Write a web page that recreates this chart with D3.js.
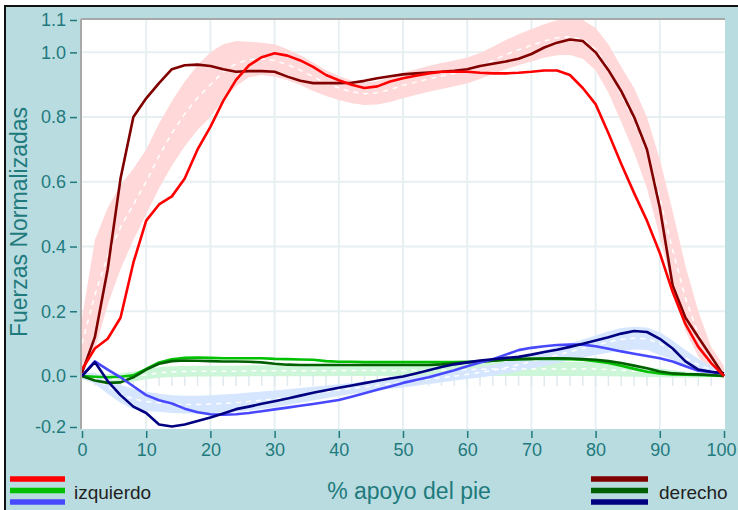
<!DOCTYPE html>
<html>
<head>
<meta charset="utf-8">
<script src="https://cdn.jsdelivr.net/npm/d3@7"></script>
<style>
  body { margin: 0; background: #fff; }
  svg { display: block; }
  text { font-family: "Liberation Sans", Arial, sans-serif; }
</style>
</head>
<body>
<script>
// % of stance phase
var pct = [0,2,4,6,8,10,12,14,16,18,20,22,24,26,28,30,32,34,36,38,40,42,44,46,48,50,
           52,54,56,58,60,62,64,66,68,70,72,74,76,78,80,82,84,86,88,90,92,94,96,98,100];

// vertical force
var izqVert = [0.02,0.085,0.115,0.18,0.35,0.48,0.53,0.555,0.61,0.70,0.77,0.85,0.915,0.96,0.985,0.997,0.99,0.975,0.955,0.93,
               0.914,0.90,0.89,0.895,0.91,0.92,0.928,0.935,0.94,0.94,0.94,0.937,0.935,0.935,0.937,0.94,0.944,0.944,0.93,0.89,
               0.84,0.75,0.655,0.565,0.48,0.38,0.26,0.16,0.09,0.04,0.0];
var derVert = [0.01,0.12,0.33,0.61,0.80,0.858,0.905,0.948,0.96,0.962,0.958,0.948,0.94,0.942,0.942,0.94,0.925,0.912,0.905,0.905,
               0.905,0.906,0.912,0.92,0.926,0.932,0.935,0.938,0.94,0.943,0.948,0.958,0.965,0.972,0.98,0.995,1.015,1.03,1.04,1.035,
               1.0,0.945,0.88,0.8,0.70,0.52,0.28,0.18,0.12,0.06,0.0];
var normVertMean = [0.1,0.25,0.37,0.46,0.53,0.6,0.68,0.75,0.81,0.86,0.9,0.94,0.965,0.978,0.98,0.975,0.962,0.945,0.925,0.905,
                    0.89,0.878,0.872,0.875,0.885,0.898,0.908,0.918,0.927,0.935,0.944,0.958,0.975,0.993,1.008,1.022,1.035,1.045,1.048,1.04,
                    1.01,0.95,0.87,0.79,0.69,0.55,0.39,0.24,0.13,0.05,0.01];
var normVertSd = [0.08,0.17,0.15,0.13,0.11,0.1,0.1,0.1,0.1,0.1,0.1,0.085,0.07,0.055,0.05,0.05,0.048,0.046,0.044,0.04,
                  0.037,0.035,0.035,0.036,0.038,0.04,0.04,0.04,0.04,0.04,0.04,0.04,0.042,0.045,0.048,0.05,0.052,0.054,0.056,0.06,
                  0.065,0.075,0.085,0.1,0.11,0.12,0.12,0.1,0.07,0.04,0.02];

// medio-lateral force
var izqML = [0.0,-0.003,-0.005,-0.003,0.002,0.022,0.042,0.052,0.056,0.057,0.056,0.055,0.055,0.055,0.055,0.053,0.052,0.051,0.05,0.046,
             0.044,0.044,0.043,0.043,0.043,0.043,0.043,0.043,0.043,0.043,0.044,0.045,0.047,0.05,0.052,0.053,0.053,0.053,0.052,0.05,
             0.046,0.04,0.032,0.022,0.013,0.008,0.005,0.004,0.003,0.002,0.0];
var derML = [0.0,-0.018,-0.027,-0.025,-0.005,0.02,0.038,0.046,0.048,0.047,0.046,0.045,0.045,0.044,0.042,0.038,0.035,0.034,0.034,0.034,
             0.034,0.034,0.034,0.034,0.034,0.034,0.034,0.034,0.036,0.039,0.042,0.044,0.047,0.05,0.052,0.053,0.054,0.055,0.054,0.052,
             0.05,0.046,0.04,0.032,0.024,0.014,0.008,0.006,0.005,0.003,0.0];
var normMLMean = [-0.005,-0.01,-0.012,-0.01,-0.004,0.004,0.01,0.013,0.014,0.015,0.015,0.015,0.015,0.016,0.016,0.016,0.016,0.016,0.016,0.016,
                  0.017,0.017,0.017,0.017,0.017,0.017,0.018,0.018,0.018,0.019,0.02,0.021,0.022,0.022,0.022,0.022,0.022,0.022,0.022,0.022,
                  0.022,0.02,0.018,0.015,0.012,0.009,0.006,0.004,0.002,0.001,0.0];
var normMLSd = [0.008,0.015,0.018,0.018,0.018,0.017,0.017,0.017,0.017,0.017,0.017,0.017,0.017,0.017,0.017,0.017,0.017,0.017,0.017,0.017,
                0.017,0.017,0.017,0.017,0.017,0.018,0.018,0.018,0.019,0.019,0.02,0.021,0.022,0.022,0.022,0.022,0.022,0.022,0.022,0.022,
                0.022,0.021,0.02,0.018,0.016,0.014,0.012,0.01,0.008,0.006,0.005];

// antero-posterior force
var izqAP = [0.0,0.045,0.02,-0.005,-0.04,-0.075,-0.095,-0.108,-0.128,-0.142,-0.15,-0.152,-0.15,-0.145,-0.138,-0.131,-0.124,-0.117,-0.11,-0.102,
             -0.094,-0.081,-0.068,-0.054,-0.041,-0.027,-0.016,-0.005,0.007,0.018,0.03,0.042,0.052,0.066,0.08,0.087,0.092,0.096,0.097,0.097,
             0.092,0.084,0.076,0.069,0.062,0.055,0.045,0.03,0.016,0.012,0.008];
var derAP = [0.0,0.043,-0.02,-0.075,-0.12,-0.145,-0.19,-0.198,-0.19,-0.176,-0.163,-0.147,-0.13,-0.12,-0.109,-0.099,-0.088,-0.077,-0.066,-0.056,
             -0.046,-0.037,-0.028,-0.019,-0.01,-0.002,0.008,0.018,0.028,0.036,0.042,0.048,0.052,0.056,0.059,0.066,0.074,0.081,0.09,0.1,
             0.11,0.12,0.131,0.139,0.136,0.115,0.085,0.045,0.02,0.013,0.008];
var normAPMean = [0.0,-0.01,-0.04,-0.07,-0.09,-0.1,-0.105,-0.11,-0.112,-0.112,-0.11,-0.108,-0.105,-0.1,-0.095,-0.09,-0.083,-0.076,-0.069,-0.062,
                  -0.055,-0.049,-0.043,-0.037,-0.03,-0.025,-0.019,-0.013,-0.007,-0.001,0.005,0.011,0.018,0.026,0.035,0.045,0.055,0.065,0.075,0.085,
                  0.095,0.105,0.113,0.117,0.115,0.1,0.08,0.055,0.035,0.02,0.005];
var normAPSd = [0.01,0.02,0.03,0.035,0.04,0.038,0.035,0.035,0.035,0.035,0.035,0.035,0.035,0.035,0.034,0.033,0.031,0.029,0.027,0.025,
                0.023,0.022,0.021,0.02,0.02,0.02,0.019,0.018,0.018,0.017,0.017,0.017,0.017,0.018,0.02,0.022,0.024,0.025,0.026,0.028,
                0.03,0.033,0.035,0.035,0.035,0.035,0.03,0.025,0.018,0.01,0.005];

var yTicks = [-0.2, 0.0, 0.2, 0.4, 0.6, 0.8, 1.0, 1.1];
var xTicks = [0,10,20,30,40,50,60,70,80,90,100];

var teal = "#1f7a7d";
var W = 738, H = 510;
var plot = {left: 81, right: 725, top: 20, bottom: 429};

var svg = d3.select("body").append("svg")
    .attr("width", W)
    .attr("height", H);

// outer panel
svg.append("rect")
    .attr("x", 5).attr("y", 6)
    .attr("width", W).attr("height", H)
    .attr("fill", "#b9dce0");
svg.append("line").attr("x1", 4).attr("x2", W).attr("y1", 6).attr("y2", 6)
    .attr("stroke", "#111").attr("stroke-width", 2);
svg.append("line").attr("x1", 5).attr("x2", 5).attr("y1", 6).attr("y2", H)
    .attr("stroke", "#111").attr("stroke-width", 2);

svg.append("rect")
    .attr("x", plot.left).attr("y", plot.top)
    .attr("width", plot.right - plot.left)
    .attr("height", plot.bottom - plot.top)
    .attr("fill", "#fff");

var x = d3.scaleLinear().domain([0, 100]).range([82, 724]);
var y = d3.scaleLinear().domain([-0.2, 0, 1.1]).range([427, 376, 20]);

// grid
svg.append("g").selectAll("line")
    .data(xTicks.slice(1, -1)).enter().append("line")
    .attr("x1", function(d) { return x(d); })
    .attr("x2", function(d) { return x(d); })
    .attr("y1", plot.top).attr("y2", plot.bottom)
    .attr("stroke", "#e6f0f2").attr("stroke-width", 2);
svg.append("g").selectAll("line")
    .data([0.2, 0.4, 0.6, 0.8, 1.0]).enter().append("line")
    .attr("x1", plot.left).attr("x2", plot.right)
    .attr("y1", function(d) { return y(d); })
    .attr("y2", function(d) { return y(d); })
    .attr("stroke", "#e6f0f2").attr("stroke-width", 2);
// minor ticks below the zero line
svg.append("g").selectAll("line")
    .data(pct.slice(1, -1)).enter().append("line")
    .attr("x1", function(d) { return x(d); })
    .attr("x2", function(d) { return x(d); })
    .attr("y1", y(0)).attr("y2", y(0) + 10)
    .attr("stroke", "#dfe9ee").attr("stroke-width", 1.5);

svg.append("line").attr("x1", plot.left).attr("x2", plot.right)
    .attr("y1", plot.top - 1).attr("y2", plot.top - 1)
    .attr("stroke", "#a8a8a8").attr("stroke-width", 2);
svg.append("line").attr("x1", plot.left).attr("x2", plot.left)
    .attr("y1", plot.top - 1).attr("y2", plot.bottom)
    .attr("stroke", "#a8a8a8").attr("stroke-width", 2);

svg.append("clipPath").attr("id", "clip")
    .append("rect")
    .attr("x", plot.left + 1).attr("y", plot.top)
    .attr("width", plot.right - plot.left)
    .attr("height", plot.bottom - plot.top);

var g = svg.append("g").attr("clip-path", "url(#clip)");

var band = function(mean, sd) {
    return d3.area()
        .x(function(d, i) { return x(pct[i]); })
        .y0(function(d, i) { return y(mean[i] - sd[i]); })
        .y1(function(d, i) { return y(mean[i] + sd[i]); })(mean);
};
var line = function(vals) {
    return d3.line()
        .x(function(d, i) { return x(pct[i]); })
        .y(function(d) { return y(d); })(vals);
};

var bands = [
    {mean: normVertMean, sd: normVertSd, color: "#ffd9d9"},
    {mean: normMLMean, sd: normMLSd, color: "#cdf5d8"},
    {mean: normAPMean, sd: normAPSd, color: "#d6e6ff"}
];
bands.forEach(function(b) {
    g.append("path").attr("d", band(b.mean, b.sd))
        .attr("fill", b.color);
});
bands.forEach(function(b) {
    g.append("path").attr("d", line(b.mean))
        .attr("fill", "none")
        .attr("stroke", "#fff")
        .attr("stroke-width", 1.5)
        .attr("stroke-dasharray", "5,5");
});

var series = [
    {vals: izqML, color: "#00c000"},
    {vals: derML, color: "#006000"},
    {vals: izqAP, color: "#4848ff"},
    {vals: derAP, color: "#000080"},
    {vals: derVert, color: "#800000"},
    {vals: izqVert, color: "#ff0000"}
];
series.forEach(function(s) {
    g.append("path").attr("d", line(s.vals))
        .attr("fill", "none")
        .attr("stroke", s.color)
        .attr("stroke-width", 2.6)
        .attr("stroke-linejoin", "round");
});

// axes
var yAxis = svg.append("g")
    .attr("transform", "translate(77,0)")
    .call(d3.axisLeft(y).tickValues(yTicks).tickSize(7).tickPadding(4)
        .tickFormat(function(d) { return d.toFixed(1); }));
var xAxis = svg.append("g")
    .attr("transform", "translate(0,431)")
    .call(d3.axisBottom(x).tickValues(xTicks).tickSize(7).tickPadding(5));
[yAxis, xAxis].forEach(function(a) {
    a.select(".domain").remove();
    a.selectAll(".tick line").attr("stroke", teal).attr("stroke-width", 1.5);
    a.selectAll(".tick text")
        .attr("fill", teal)
        .style("font-size", "18px")
        .style("font-family", "'Liberation Sans', Arial, sans-serif");
});
xAxis.selectAll(".tick text")
    .filter(function(d) { return d === 100; })
    .attr("dx", -3);

svg.append("text")
    .attr("transform", "translate(27,222) rotate(-90)")
    .attr("text-anchor", "middle")
    .attr("fill", teal)
    .style("font-size", "23px")
    .text("Fuerzas Normalizadas");

svg.append("text")
    .attr("x", 409).attr("y", 499)
    .attr("text-anchor", "middle")
    .attr("fill", teal)
    .style("font-size", "23px")
    .text("% apoyo del pie");

// legends
var legIzq = ["#ff0000", "#00c000", "#4848ff"];
var legDer = ["#800000", "#006000", "#000080"];
var legend = function(colors, x0, x1, label, tx) {
    svg.append("g").selectAll("line")
        .data(colors).enter().append("line")
        .attr("x1", x0).attr("x2", x1)
        .attr("y1", function(d, i) { return 479 + i * 11.5; })
        .attr("y2", function(d, i) { return 479 + i * 11.5; })
        .attr("stroke", function(d) { return d; })
        .attr("stroke-width", 5.5);
    svg.append("text")
        .attr("x", tx).attr("y", 499)
        .attr("fill", "#222")
        .style("font-size", "19px")
        .text(label);
};
legend(legIzq, 10, 65, "izquierdo", 74);
legend(legDer, 591, 648, "derecho", 659);
</script>
</body>
</html>
